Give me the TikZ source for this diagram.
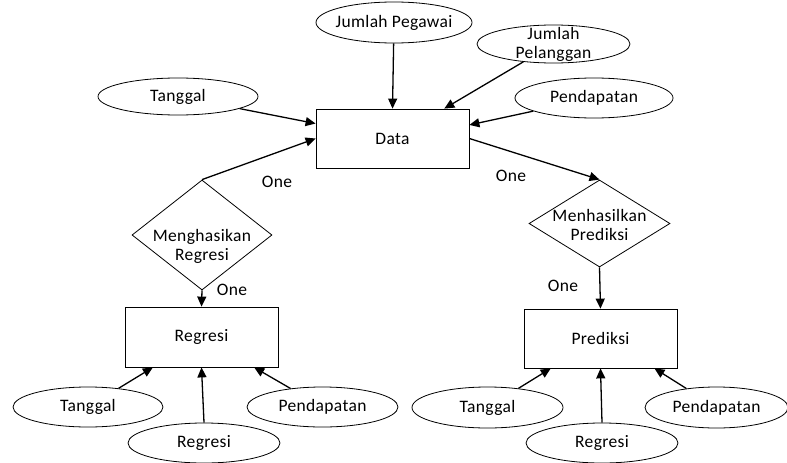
\documentclass[tikz,border=0pt]{standalone}
\usepackage{fontspec}
\setmainfont{Carlito}[LetterSpace=2]
\usetikzlibrary{shapes.geometric,arrows.meta}

\tikzset{
  attr/.style={ellipse, draw, line width=0.8pt, inner sep=0pt},
  entity/.style={rectangle, draw, line width=0.8pt, inner sep=0pt,
                 minimum width=153pt, minimum height=59pt},
  rel/.style={diamond, draw, line width=0.8pt, inner sep=0pt},
  txt/.style={align=center, inner sep=0pt},
  conn/.style={line width=1.3pt, -{Triangle[length=10pt,width=9pt]}},
  card/.style={inner sep=0pt},
  every label/.style={align=center, inner sep=0pt}
}

\begin{document}
\begin{tikzpicture}[x=1pt, y=-1pt, font=\fontsize{17.5}{19}\selectfont]
\useasboundingbox (0,0) rectangle (787,463);

% central entity and its attributes
\node[entity] (data) at (392.5,138.5) {Data};
\node[attr, minimum width=156pt, minimum height=41pt,
      label=center:Jumlah Pegawai] (jpeg) at (394,22.5) {};
\node[attr, minimum width=153pt, minimum height=38pt,
      label={center:Jumlah\\Pelanggan}] (jpel) at (553.5,44) {};
\node[attr, minimum width=158pt, minimum height=40pt,
      label=center:Pendapatan] (pdt0) at (594,98) {};
\node[attr, minimum width=160pt, minimum height=37pt,
      label=center:Tanggal] (tgl0) at (178,96.5) {};

% relationships
\node[rel, minimum width=140pt, minimum height=110pt] (rgen) at (202,235) {};
\node[txt] (rgent) at (202,246.5) {Menghasikan\\Regresi};
\node[rel, minimum width=141pt, minimum height=87pt] (pgen) at (599.5,223.5) {};
\node[txt] (pgent) at (599.5,224.5) {Menhasilkan\\Prediksi};

% lower entities
\node[entity, minimum height=60pt] (reg) at (201.5,337) {Regresi};
\node[entity, minimum height=59pt] (pred) at (600.5,338.5) {Prediksi};

% attributes of Regresi
\node[attr, minimum width=150pt, minimum height=40pt,
      label=center:Tanggal] (tgl1) at (88,407) {};
\node[attr, minimum width=152pt, minimum height=40pt,
      label=center:Regresi] (rgs1) at (204,443) {};
\node[attr, minimum width=151pt, minimum height=40pt,
      label=center:Pendapatan] (pdt1) at (322.5,407) {};

% attributes of Prediksi
\node[attr, minimum width=151pt, minimum height=41pt,
      label=center:Tanggal] (tgl2) at (487.5,407.5) {};
\node[attr, minimum width=152pt, minimum height=40pt,
      label=center:Regresi] (rgs2) at (602,443) {};
\node[attr, minimum width=143pt, minimum height=41pt,
      label=center:Pendapatan] (pdt2) at (716.5,407.5) {};

% cardinalities
\node[card] (c1) at (277,182) {One};
\node[card] (c2) at (511,175.5) {One};
\node[card] (c3) at (232,290) {One};
\node[card] (c4) at (563,286) {One};

% connectors into Data
\draw[conn] (jpeg) -- (data.north);
\draw[conn] (jpel) -- (data.30);
\draw[conn] (pdt0) -- (data.10);
\draw[conn] (tgl0) -- (data.169);
\draw[conn] (rgen.north) -- (data.west);
\draw[conn] (data.east) -- (pgen.north);

% relationship to entity
\draw[conn] (rgen.south) -- (reg.north);
\draw[conn] (pgen.south) -- (pred.north);

% attributes of lower entities
\draw[conn] (tgl1) -- (reg.212);
\draw[conn] (rgs1.north) -- (reg.south);
\draw[conn] (pdt1) -- (reg.-30);
\draw[conn] (tgl2) -- (pred.211);
\draw[conn] (rgs2.north) -- (pred.south);
\draw[conn] (pdt2) -- (pred.-29);
\end{tikzpicture}
\end{document}
